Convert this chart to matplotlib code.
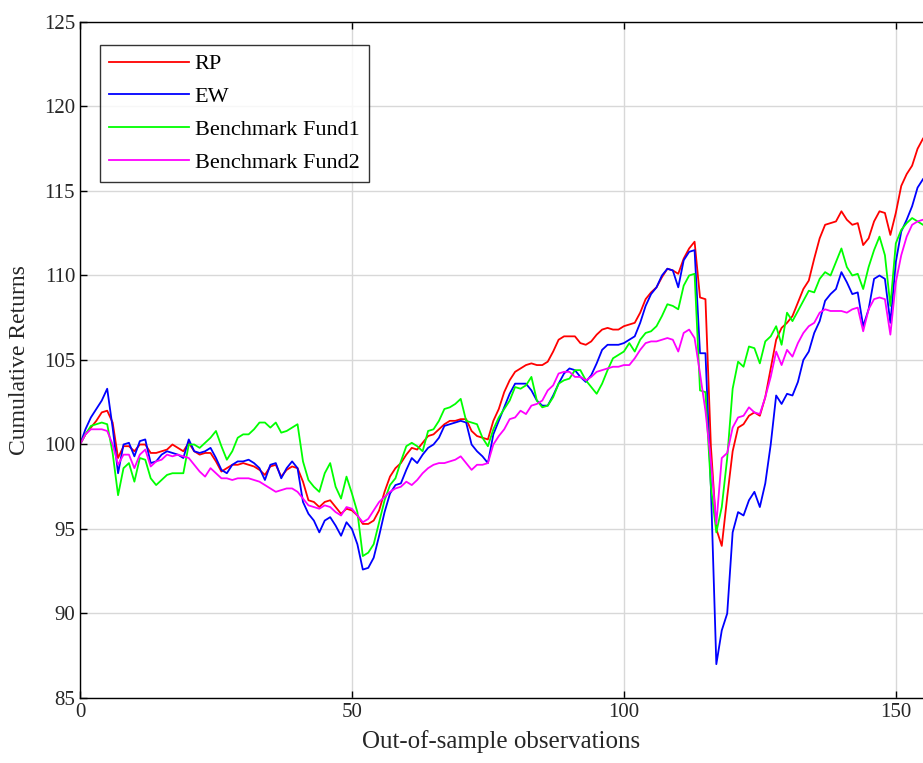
import numpy as np
import matplotlib
matplotlib.use('Agg')
import matplotlib.pyplot as plt

# Cumulative returns, one value per out-of-sample observation (0..155)
rp = [100.0, 100.6, 101.0, 101.4, 101.9, 102.0, 101.3, 99.2, 99.9, 99.9,
      99.6, 100.0, 100.0, 99.5, 99.5, 99.6, 99.7, 100.0, 99.8, 99.6,
      100.1, 99.6, 99.4, 99.5, 99.5, 99.0, 98.4, 98.6, 98.8, 98.8,
      98.9, 98.8, 98.7, 98.5, 98.2, 98.7, 98.8, 98.1, 98.5, 98.7,
      98.6, 97.8, 96.7, 96.6, 96.3, 96.6, 96.7, 96.3, 95.9, 96.2,
      96.1, 95.8, 95.3, 95.3, 95.5, 96.1, 97.2, 98.1, 98.6, 98.9,
      99.4, 99.8, 99.7, 100.1, 100.5, 100.6, 100.9, 101.2, 101.4, 101.4,
      101.5, 101.5, 100.8, 100.5, 100.4, 100.3, 101.4, 102.1, 103.1, 103.8,
      104.3, 104.5, 104.7, 104.8, 104.7, 104.7, 104.9, 105.5, 106.2, 106.4,
      106.4, 106.4, 106.0, 105.9, 106.1, 106.5, 106.8, 106.9, 106.8, 106.8,
      107.0, 107.1, 107.2, 107.8, 108.6, 109.0, 109.3, 109.9, 110.4, 110.3,
      110.1, 111.0, 111.6, 112.0, 108.7, 108.6, 99.9, 95.0, 94.0, 96.9,
      99.6, 101.0, 101.2, 101.7, 101.9, 101.7, 102.8, 104.5, 106.2, 106.9,
      107.2, 107.6, 108.4, 109.2, 109.7, 111.0, 112.2, 113.0, 113.1, 113.2,
      113.8, 113.3, 113.0, 113.1, 111.8, 112.2, 113.2, 113.8, 113.7, 112.4,
      113.7, 115.3, 116.0, 116.5, 117.5, 118.1]

ew = [100.0, 100.9, 101.6, 102.1, 102.6, 103.3, 101.0, 98.3, 100.0, 100.1,
      99.3, 100.2, 100.3, 98.9, 99.0, 99.4, 99.6, 99.5, 99.4, 99.2,
      100.3, 99.6, 99.5, 99.6, 99.8, 99.2, 98.5, 98.3, 98.8, 99.0,
      99.0, 99.1, 98.9, 98.6, 97.9, 98.8, 98.9, 98.0, 98.6, 99.0,
      98.6, 96.6, 95.9, 95.5, 94.8, 95.5, 95.7, 95.2, 94.6, 95.4,
      95.0, 94.1, 92.6, 92.7, 93.3, 94.6, 96.0, 97.1, 97.6, 97.7,
      98.5, 99.2, 98.9, 99.4, 99.8, 100.0, 100.4, 101.1, 101.2, 101.3,
      101.4, 101.3, 100.0, 99.6, 99.3, 98.9, 100.6, 101.4, 102.2, 103.0,
      103.6, 103.6, 103.6, 103.2, 102.6, 102.3, 102.3, 102.9, 103.6, 104.2,
      104.5, 104.4, 104.0, 103.7, 104.1, 104.8, 105.6, 105.9, 105.9, 105.9,
      106.0, 106.2, 106.4, 107.2, 108.2, 108.9, 109.3, 110.0, 110.4, 110.3,
      109.3, 110.9, 111.4, 111.5, 105.4, 105.4, 97.5, 87.0, 89.0, 90.0,
      94.8, 96.0, 95.8, 96.7, 97.2, 96.3, 97.7, 100.0, 102.9, 102.4,
      103.0, 102.9, 103.7, 105.0, 105.5, 106.6, 107.3, 108.5, 108.9, 109.2,
      110.2, 109.6, 108.9, 109.0, 107.0, 108.0, 109.8, 110.0, 109.8, 107.2,
      110.8, 112.6, 113.3, 114.1, 115.2, 115.7]

fund1 = [100.0, 100.6, 101.1, 101.2, 101.3, 101.2, 99.5, 97.0, 98.6, 98.9,
         97.8, 99.2, 99.1, 98.0, 97.6, 97.9, 98.2, 98.3, 98.3, 98.3,
         100.0, 100.0, 99.8, 100.1, 100.4, 100.8, 99.9, 99.1, 99.6, 100.4,
         100.6, 100.6, 100.9, 101.3, 101.3, 101.0, 101.3, 100.7, 100.8, 101.0,
         101.2, 99.0, 97.9, 97.5, 97.2, 98.3, 98.9, 97.5, 96.8, 98.1,
         97.1, 96.0, 93.4, 93.6, 94.1, 95.4, 96.7, 97.6, 98.0, 99.0,
         99.9, 100.1, 99.9, 99.6, 100.8, 100.9, 101.4, 102.1, 102.2, 102.4,
         102.7, 101.4, 101.3, 101.2, 100.4, 99.9, 100.9, 101.6, 102.1, 102.6,
         103.4, 103.3, 103.5, 104.0, 102.6, 102.2, 102.3, 102.8, 103.6, 103.8,
         103.9, 104.4, 104.4, 103.8, 103.4, 103.0, 103.6, 104.4, 105.1, 105.3,
         105.5, 106.0, 105.5, 106.2, 106.6, 106.7, 107.0, 107.6, 108.3, 108.2,
         108.0, 109.4, 110.0, 110.1, 103.2, 103.1, 97.5, 94.8, 96.3, 99.2,
         103.3, 104.9, 104.6, 105.8, 105.7, 104.8, 106.1, 106.4, 107.0, 105.9,
         107.8, 107.3, 107.9, 108.5, 109.1, 109.0, 109.8, 110.2, 110.0, 110.8,
         111.6, 110.5, 110.0, 110.1, 109.2, 110.5, 111.5, 112.3, 111.2, 108.2,
         111.9, 112.7, 113.1, 113.4, 113.2, 113.0]

fund2 = [100.0, 100.6, 100.9, 100.9, 100.9, 100.8, 100.0, 98.8, 99.4, 99.4,
         98.6, 99.4, 99.7, 98.7, 99.0, 99.1, 99.4, 99.3, 99.4, 99.3,
         99.2, 98.8, 98.4, 98.1, 98.6, 98.3, 98.0, 98.0, 97.9, 98.0,
         98.0, 98.0, 97.9, 97.8, 97.6, 97.4, 97.2, 97.3, 97.4, 97.4,
         97.2, 96.8, 96.4, 96.3, 96.2, 96.4, 96.3, 96.0, 95.8, 96.3,
         96.2, 95.8, 95.4, 95.6, 96.1, 96.6, 96.9, 97.2, 97.4, 97.5,
         97.8, 97.6, 97.9, 98.3, 98.6, 98.8, 98.9, 98.9, 99.0, 99.1,
         99.3, 98.9, 98.5, 98.8, 98.8, 98.9, 100.0, 100.5, 100.9, 101.5,
         101.6, 102.0, 101.8, 102.3, 102.4, 102.6, 103.2, 103.5, 104.2, 104.3,
         104.3, 104.0, 104.0, 103.8, 104.0, 104.3, 104.4, 104.5, 104.6, 104.6,
         104.7, 104.7, 105.1, 105.6, 106.0, 106.1, 106.1, 106.2, 106.3, 106.2,
         105.5, 106.6, 106.8, 106.3, 104.2, 102.0, 99.0, 95.3, 99.2, 99.5,
         101.0, 101.6, 101.7, 102.2, 101.9, 101.8, 102.8, 104.0, 105.5, 104.7,
         105.6, 105.2, 106.0, 106.6, 107.0, 107.2, 107.8, 108.0, 107.9, 107.9,
         107.9, 107.8, 108.0, 108.1, 106.7, 108.0, 108.6, 108.7, 108.6, 106.5,
         109.6, 111.2, 112.3, 113.0, 113.2, 113.3]

names = ['RP', 'EW', 'Benchmark Fund1', 'Benchmark Fund2']
colors = ['#ff0000', '#0000ff', '#00ff00', '#ff00ff']

plt.rcParams['font.family'] = ['Liberation Serif', 'DejaVu Serif']

fig = plt.figure(figsize=(9.23, 7.63), dpi=100)
ax = fig.add_axes([80/923, 65/763, 843/923, 676/763])

obs = np.arange(len(rp))
for series, name, col in zip([rp, ew, fund1, fund2], names, colors):
    ax.plot(obs, series, color=col, lw=1.3, label=name)

ax.set_xlim(0, 155)
ax.set_ylim(85, 125)
ax.set_xticks([0, 50, 100, 150])
ax.set_yticks(np.arange(85, 126, 5))
ax.grid(True, color='#d8d8d8', lw=1.0)
ax.set_axisbelow(True)
ax.tick_params(direction='in', length=5, width=1, labelsize=15,
               labelcolor='#262626', top=True, right=False)
ax.spines['right'].set_visible(False)
for s in ax.spines.values():
    s.set_linewidth(1.0)

ax.set_xlabel('Out-of-sample observations', fontsize=18, color='#262626', labelpad=6)
ax.set_ylabel('Cumulative Returns', fontsize=17, color='#262626', labelpad=10)

leg = ax.legend(loc='upper left', bbox_to_anchor=(0.0237, 0.966), borderaxespad=0,
                fontsize=16, frameon=True, fancybox=False, handlelength=3.6,
                labelspacing=0.55, borderpad=0.4, handletextpad=0.27)
leg.get_frame().set_edgecolor('black')
leg.get_frame().set_linewidth(1.0)

fig.savefig('out.png', dpi=100)
